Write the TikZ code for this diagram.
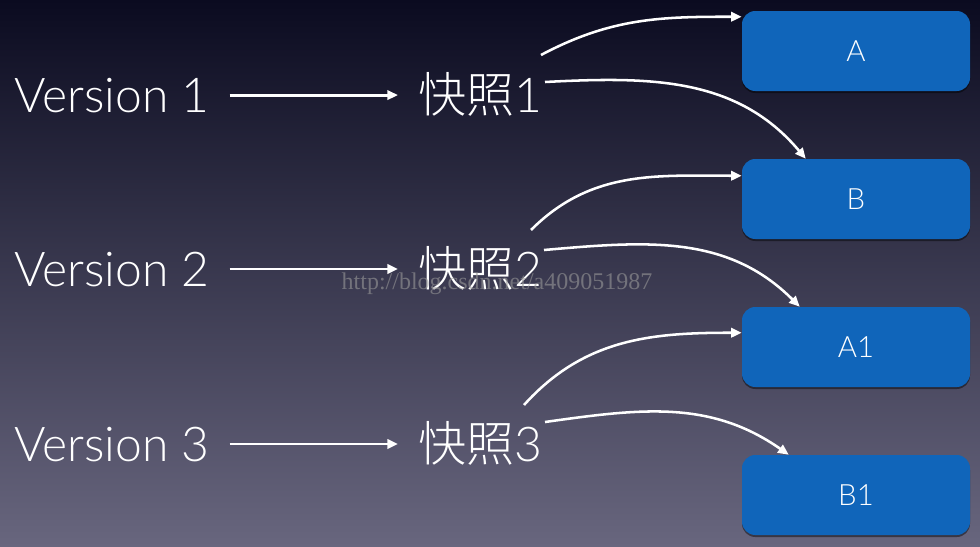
\documentclass[tikz,border=0pt]{standalone}
\usepackage{fontspec}
\setmainfont{Lato Light}
\newfontfamily\cjk{Noto Sans CJK SC Light}
\newfontfamily\wmfont{Liberation Serif}
\usetikzlibrary{arrows.meta,calc,shadows}
\definecolor{boxblue}{HTML}{1065BA}
\definecolor{bgtop}{HTML}{0B0B20}
\definecolor{bgmid}{HTML}{2F2F4C}
\definecolor{bgbot}{HTML}{68667E}
\begin{document}
\begin{tikzpicture}[x=0.75pt,y=0.75pt,
  ver/.style={text=white,font=\fontsize{36}{40}\selectfont,inner xsep=15pt,inner ysep=0pt,anchor=base west},
  snap/.style={text=white,font=\fontsize{36}{40}\selectfont,inner xsep=15pt,inner ysep=0pt,anchor=base west},
  verbox/.style={fill=boxblue,rounded corners=10pt,minimum width=171pt,minimum height=60pt,text=white,
    font=\fontsize{22}{24}\selectfont,
    drop shadow={shadow xshift=0pt,shadow yshift=-1.5pt,opacity=0.45,fill=black}},
  conn/.style={white,line width=2.2pt,-{Triangle[length=8pt,width=7pt]}},
  curv/.style={white,line width=1.9pt,-{Triangle[length=8pt,width=7pt]}}]
\useasboundingbox (0,0) rectangle (980,-546);
\fill[top color=bgtop,middle color=bgmid,bottom color=bgbot] (0,0) rectangle (980,-546);

\node[ver] (v1) at (-6,-112) {Version 1};
\node[ver] (v2) at (-6,-286) {Version 2};
\node[ver] (v3) at (-6,-461) {Version 3};

\node[snap] (s1) at (398,-112) {{\cjk 快照}1};
\node[snap] (s2) at (398,-286) {{\cjk 快照}2};
\node[snap] (s3) at (398,-461) {{\cjk 快照}3};

\node[verbox] (A)  at (856,-51)  {A};
\node[verbox] (B)  at (856,-199) {B};
\node[verbox] (A1) at (856,-347) {A1};
\node[verbox] (B1) at (856,-495) {B1};

\draw[conn] (v1.east) -- (v1.east -| s1.west);
\draw[conn] (v2.east) -- (v2.east -| s2.west);
\draw[conn] (v3.east) -- (v3.east -| s3.west);

\coordinate (s1u) at (541,-55);
\coordinate (s1d) at (545,-82);
\coordinate (s2u) at (531,-230);
\coordinate (s2d) at (544,-250);
\coordinate (s3u) at (524,-405);
\coordinate (s3d) at (545,-422);

\draw[curv] (s1u) to[out=28,in=180] ($(A.north west)+(0,-6)$);
\draw[curv] (s1d) to[out=3,in=130] ($(B.north west)+(64,0)$);
\draw[curv] (s2u) to[out=45,in=180] ($(B.north west)+(0,-17)$);
\draw[curv] (s2d) to[out=5,in=135] ($(A1.north west)+(58,0)$);
\draw[curv] (s3u) to[out=48,in=180] ($(A1.north west)+(0,-26)$);
\draw[curv] (s3d) to[out=8,in=145] ($(B1.north west)+(47,0)$);

\node[font=\wmfont\fontsize{18}{20}\selectfont,text=gray!80,opacity=0.6] (wm) at (497,-284) {http://blog.csdn.net/a409051987};
\end{tikzpicture}
\end{document}
